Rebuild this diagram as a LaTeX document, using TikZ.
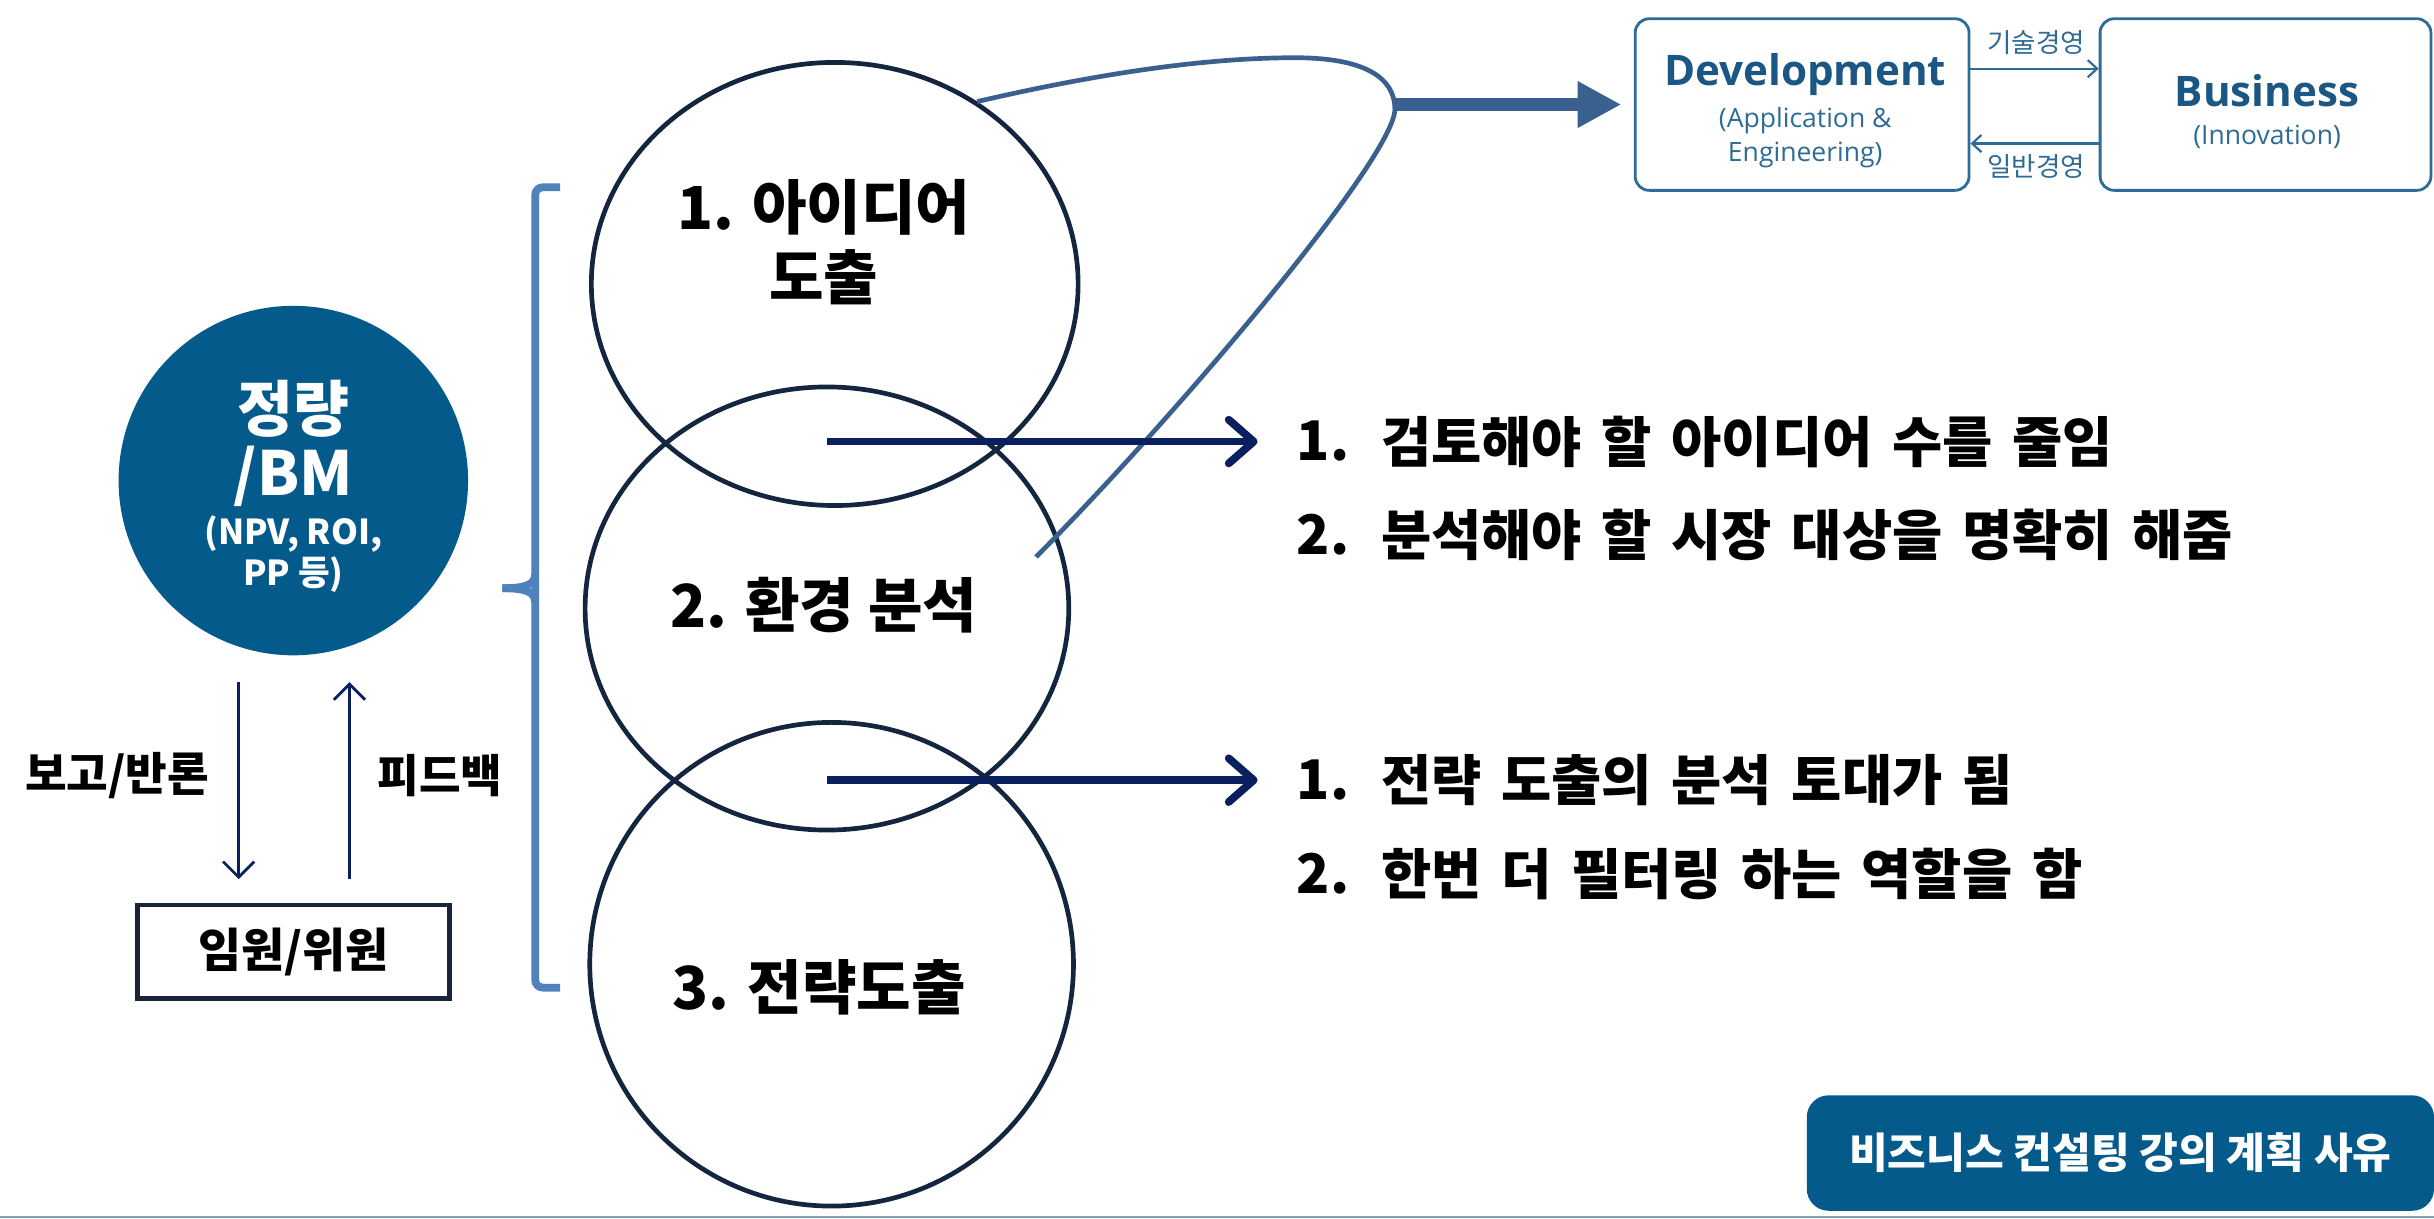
\documentclass[tikz,border=0pt]{standalone}
\usepackage{fontspec}
\newfontfamily\kr{Noto Sans CJK KR}
\newfontfamily\os{Open Sans}
\usetikzlibrary{arrows.meta,shapes.geometric,calc}
\definecolor{bmblue}{HTML}{045A8B}
\definecolor{ellc}{HTML}{13253F}
\definecolor{navy}{HTML}{0A1F5E}
\definecolor{brk}{HTML}{4F81BD}
\definecolor{lasso}{HTML}{3A6090}
\definecolor{devc}{HTML}{1A5784}
\definecolor{devb}{HTML}{2E6C96}
\definecolor{boardc}{HTML}{18243A}
\definecolor{baselc}{HTML}{7BA3BF}
\tikzset{
  ell/.style={draw=ellc, line width=3pt, ellipse, inner sep=0pt, minimum width=310pt, minimum height=284pt},
  bigtxt/.style={font=\kr\bfseries\fontsize{38}{46}\selectfont, inner sep=0pt},
  listtxt/.style={font=\kr\bfseries\fontsize{35}{40}\selectfont, inner sep=0pt, anchor=west},
  lbltxt/.style={font=\kr\bfseries\fontsize{29}{34}\selectfont, inner sep=0pt},
  wtxt/.style={text=white, inner sep=0pt},
  navyarrow/.style={draw=navy, line width=5pt, -{Straight Barb[length=16pt,width=28pt,round]}},
  thinarrow/.style={draw=navy, line width=1.8pt, -{Straight Barb[length=10pt,width=20pt]}},
  smallarrow/.style={draw=devb, line width=1.4pt, -{Straight Barb[length=6pt,width=11pt]}},
  topbox/.style={draw=devb, line width=1.8pt, rounded corners=9pt, fill=white, minimum width=214pt, minimum height=110pt},
  boldlat/.style={font=\os\bfseries\fontsize{27}{32}\selectfont, text=devc, inner sep=0pt},
  smalllat/.style={font=\os\fontsize{17}{21}\selectfont, text=devb, inner sep=0pt},
  smallkr/.style={font=\kr\fontsize{17}{21}\selectfont, text=devb, inner sep=0pt},
}
\begin{document}
\begin{tikzpicture}[x=1pt,y=-1pt]
\useasboundingbox (0,0) rectangle (1560,781);
\fill[white] (0,0) rectangle (1560,781);

% left circle
\node[circle, fill=bmblue, minimum size=224pt, inner sep=0pt] (bm) at (188,308) {};
\node[wtxt, font=\kr\bfseries\fontsize{39}{46}\selectfont] at (188,262) {정량};
\node[wtxt, font=\kr\bfseries\fontsize{39}{46}\selectfont] at (188,305) {/BM};
\node[wtxt, font=\kr\bfseries\fontsize{22}{26}\selectfont] at (188,342) {(NPV, ROI,};
\node[wtxt, font=\kr\bfseries\fontsize{22}{26}\selectfont] at (188,368) {PP 등)};

% board
\node[draw=boardc, line width=3pt, minimum width=200pt, minimum height=60pt, inner sep=0pt,
      font=\kr\bfseries\fontsize{30}{34}\selectfont] (board) at (188,610) {임원/위원};
\coordinate (dl) at (153,0);
\coordinate (ul) at (224,0);
\draw[thinarrow, shorten <=17pt, shorten >=15pt] (bm.south -| dl) -- (board.north -| dl);
\draw[thinarrow, shorten <=15pt, shorten >=17pt] (board.north -| ul) -- (bm.south -| ul);
\node[lbltxt] (lblA) at (75,497) {보고/반론};
\node[lbltxt] (lblB) at (282,497) {피드백};

% bracket
\draw[brk, line width=5pt, rounded corners=5pt] (359,120) -- (343,120) -- (343,633) -- (359,633);
\draw[brk, line width=5pt] (343,368) .. controls (343,375) and (336,377) .. (322,377);
\draw[brk, line width=5pt] (343,386) .. controls (343,379) and (336,377) .. (322,377);

% ellipses
\node[ell, minimum width=312pt] (c1) at (535,182) {};
\node[ell] (c2) at (530,390) {};
\node[ell, minimum height=310pt] (c3) at (533,618) {};

\node[bigtxt] at (528,133) {1. 아이디어};
\node[bigtxt] at (528,178) {도출};
\node[bigtxt] at (528,388) {2. 환경 분석};
\node[bigtxt] at (525,633) {3. 전략도출};

% lasso curve and thick arrow
\coordinate (lassoR) at (894,70);
\coordinate (lassoE) at (664,357);
\draw[lasso, line width=3pt] (c1.52) .. controls (700,48) and (770,37) .. (830,37)
   .. controls (875,37) and (894,50) .. (lassoR)
   .. controls (894,100) and (760,260) .. (lassoE);

% top boxes
\node[topbox] (dev) at (1155,67) {};
\node[topbox, minimum width=212pt] (bus) at (1452,67) {};
\node[boldlat] at (1157,48) {Development};
\node[smalllat] at (1157,77) {(Application \&};
\node[smalllat] at (1157,99) {Engineering)};
\node[boldlat] at (1453,58) {Business};
\node[smalllat] at (1453,88) {(Innovation)};
\draw[smallarrow] ([yshift=23pt]dev.east) -- ([yshift=23pt]bus.west);
\draw[smallarrow] ([yshift=-25pt]bus.west) -- ([yshift=-25pt]dev.east);
\node[smallkr] at (1305,27) {기술경영};
\node[smallkr] at (1305,107) {일반경영};

\draw[draw=lasso, line width=8pt, -{Triangle[length=28pt,width=28pt]}] ([xshift=-1pt]lassoR |- dev.west) -- ([xshift=-8pt]dev.west);

% navy arrows
\coordinate (a1s) at (530,283);
\coordinate (a1e) at (806,283);
\coordinate (a2s) at (530,500);
\coordinate (a2e) at (806,500);
\draw[navyarrow] (a1s) -- (a1e);
\draw[navyarrow] (a2s) -- (a2e);

% list texts
\begin{scope}[every node/.append style={execute at begin node={\spaceskip=0.36em plus 0.1em\relax}}]
\node[listtxt] at (831,283) {1.};
\node[listtxt] at (885,283) {검토해야 할 아이디어 수를 줄임};
\node[listtxt] at (831,343) {2.};
\node[listtxt] at (885,343) {분석해야 할 시장 대상을 명확히 해줌};
\node[listtxt] at (831,500) {1.};
\node[listtxt] at (885,500) {전략 도출의 분석 토대가 됨};
\node[listtxt] at (831,560) {2.};
\node[listtxt] at (885,560) {한번 더 필터링 하는 역할을 함};
\end{scope}

% bottom note
\node[fill=bmblue, rounded corners=14pt, minimum width=402pt, minimum height=74pt, text=white,
      font=\kr\bfseries\fontsize{27}{32}\selectfont] (note) at (1359,739) {비즈니스 컨설팅 강의 계획 사유};
\draw[draw=baselc, line width=1.5pt] (0,780) -- (1560,780);
\end{tikzpicture}
\end{document}
